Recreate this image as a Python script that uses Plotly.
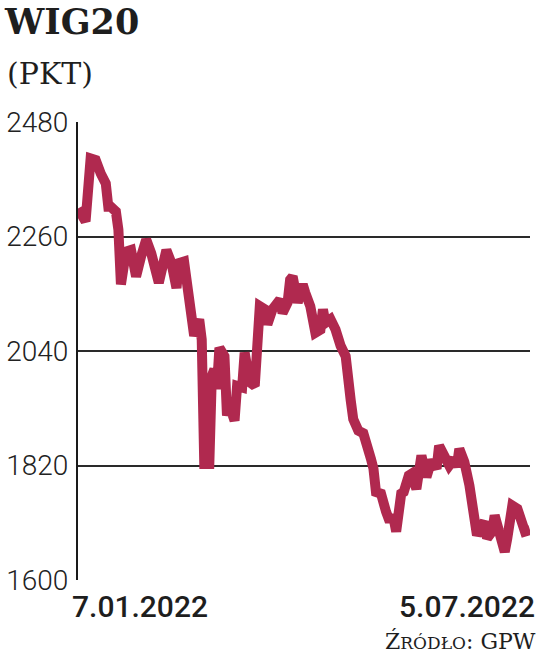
import pandas as pd
import plotly.graph_objects as go

# Day offsets from 7 Jan 2022 and WIG20 closing values
start_date = "2022-01-07"
day_offsets = [0, 3, 5, 7, 9, 11, 12, 13, 15, 16, 17, 19, 21, 23, 25, 27, 29, 31, 32, 35,
               37, 39, 40, 42, 44, 46, 48, 49, 50, 52, 53, 54, 55, 56, 58, 59, 60, 62, 63, 65,
               66, 68, 70, 71, 72, 74, 75, 77, 79, 80, 81, 83, 84, 85, 87, 89, 90, 92, 94, 96,
               97, 98, 100, 102, 104, 106, 108, 109, 111, 113, 116, 117, 118, 120, 122, 123, 125, 126, 128, 129,
               131, 132, 134, 136, 138, 140, 142, 143, 145, 147, 149, 150, 151, 153, 155, 156, 158, 160, 161, 162,
               164, 165, 167, 169, 170, 172, 174, 177, 179]
wig20 = [2314, 2289, 2410, 2407, 2381, 2362, 2317, 2317, 2308, 2273, 2168, 2231, 2234, 2183, 2222, 2254, 2228, 2171, 2171, 2234,
         2209, 2161, 2209, 2212, 2150, 2069, 2101, 2062, 1823, 1823, 1992, 2005, 1967, 2046, 2030, 1916, 1935, 1906, 1973, 1970,
         2037, 1980, 1973, 2050, 2126, 2120, 2091, 2120, 2133, 2139, 2113, 2133, 2177, 2183, 2133, 2168, 2152, 2126, 2075, 2081,
         2120, 2094, 2101, 2081, 2050, 2030, 1945, 1909, 1887, 1882, 1833, 1814, 1769, 1766, 1731, 1718, 1718, 1693, 1766, 1769,
         1801, 1804, 1775, 1839, 1798, 1830, 1814, 1858, 1839, 1820, 1833, 1817, 1852, 1827, 1782, 1750, 1686, 1705, 1712, 1680,
         1693, 1724, 1693, 1654, 1680, 1743, 1737, 1693, 1696]
y_ticks = [1600, 1820, 2040, 2260, 2480]
first_label = "7.01.2022"
last_label = "5.07.2022"

dates = pd.Timestamp(start_date) + pd.to_timedelta(day_offsets, unit="D")

fig = go.Figure()
fig.add_trace(go.Scatter(
    x=dates, y=wig20, mode="lines",
    line=dict(color="#b0294f", width=10),
    hoverinfo="x+y",
))

PH = 458.0  # plot height in px
PW = 462.0  # plot width in px

anns = [
    dict(text="<b>WIG20</b>", xref="paper", yref="paper", x=-68/PW, xshift=-9, y=1 + (122 - 22)/PH,
         xanchor="left", yanchor="middle", showarrow=False,
         font=dict(family="DejaVu Serif", size=35, color="#1e1e1e")),
    dict(text="(PKT)", xref="paper", yref="paper", x=-68/PW, xshift=-6, y=1 + (122 - 73)/PH,
         xanchor="left", yanchor="middle", showarrow=False,
         font=dict(family="DejaVu Serif", size=30, color="#1e1e1e")),
    dict(text=first_label, xref="paper", yref="paper", x=0, xshift=-8, y=-(606 - 580)/PH,
         xanchor="left", yanchor="middle", showarrow=False,
         font=dict(family="Roboto", size=30, color="#1e1e1e", weight=500)),
    dict(text=last_label, xref="paper", yref="paper", x=1, xshift=7, y=-(606 - 580)/PH,
         xanchor="right", yanchor="middle", showarrow=False,
         font=dict(family="Roboto", size=30, color="#1e1e1e", weight=500)),
    dict(text='Ź<span style="font-size:17px">RÓDŁO</span>: GPW', xref="paper", yref="paper",
         x=1, xshift=8, y=-(641 - 580)/PH,
         xanchor="right", yanchor="middle", showarrow=False,
         font=dict(family="DejaVu Serif", size=22, color="#1e1e1e")),
]

fig.update_layout(
    width=536, height=667,
    margin=dict(l=68, r=6, t=122, b=87),
    paper_bgcolor="white", plot_bgcolor="white",
    showlegend=False,
    xaxis=dict(
        range=[dates[0], dates[-1]],
        showgrid=False, showticklabels=False, ticks="",
        zeroline=False, showline=False,
    ),
    yaxis=dict(
        range=[1600, 2480],
        tickvals=y_ticks,
        ticktext=[str(v) for v in y_ticks],
        showgrid=True, gridcolor="#2a2a2a", gridwidth=2,
        showline=True, linecolor="#1a1a1a", linewidth=2,
        zeroline=False, ticks="",
        tickfont=dict(family="Roboto", size=28, color="#222", weight=300),
        ticklabelstandoff=2,
    ),
    annotations=anns,
)

fig.write_html("out.html", config={"displayModeBar": False},
               post_script="document.body.style.margin='0';")
